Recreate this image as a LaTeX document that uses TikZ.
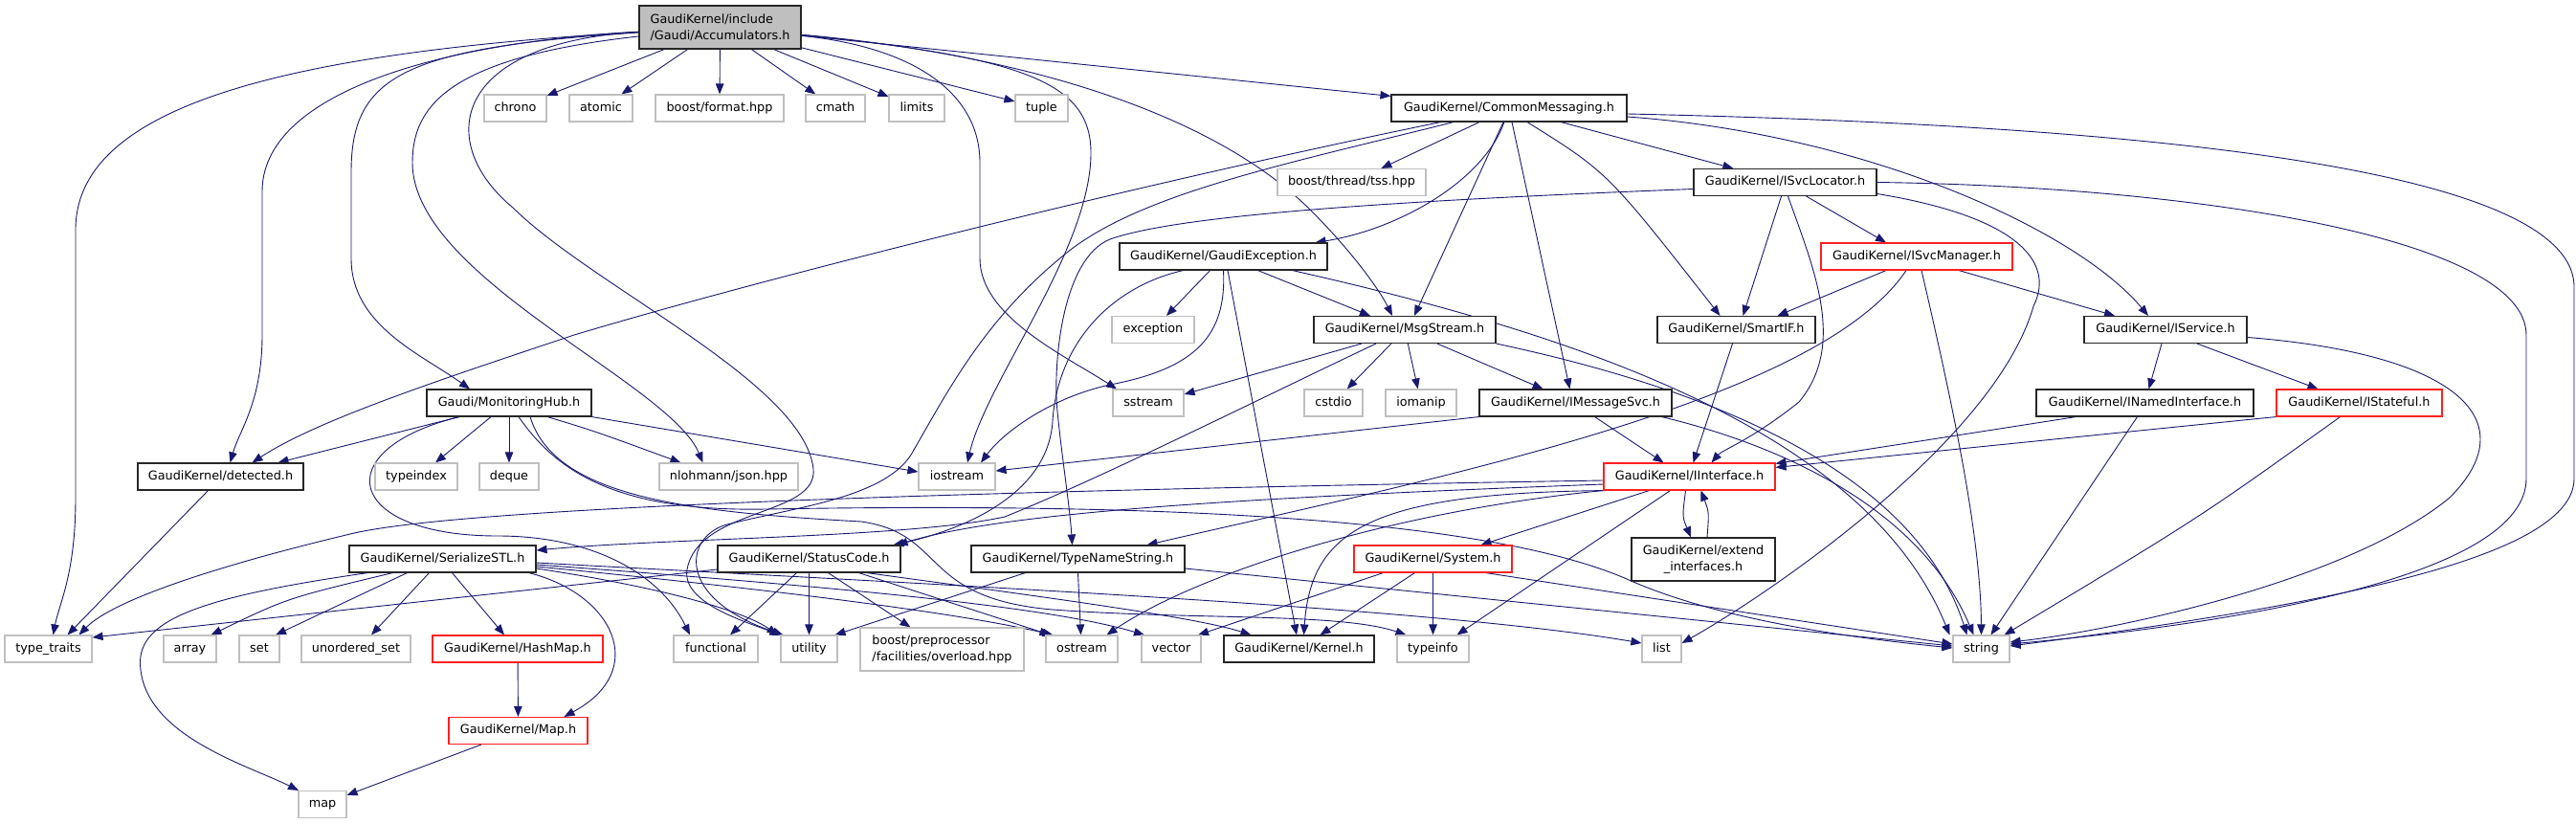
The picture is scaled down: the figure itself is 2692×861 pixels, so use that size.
\documentclass[tikz,border=0pt]{standalone}
\usepackage{fontspec}
\setmainfont{DejaVu Sans}
\usetikzlibrary{arrows.meta}
\definecolor{mblue}{HTML}{191970}
\definecolor{extgray}{HTML}{BFBFBF}
\definecolor{redb}{HTML}{FF2020}
\pgfdeclarelayer{back}
\pgfdeclarelayer{bg}
\pgfsetlayers{back,bg,main}
\tikzset{
  box/.style={inner sep=0pt, minimum height=28pt, line width=1.1pt, fill=white,
    font=\fontsize{12.8}{16.5}\selectfont, text height=9.6pt, text depth=2.8pt},
  doc/.style={box, draw=black!85},
  ext/.style={box, draw=extgray},
  trn/.style={box, draw=redb},
  two/.style={minimum height=45pt, text height=, text depth=},
  e/.style={draw=mblue, line width=0.9pt, -{Triangle[length=11pt,width=8.5pt]}}
}
\begin{document}
\begin{tikzpicture}[x=1pt,y=-1pt]
\begin{pgfonlayer}{back}
\fill[white] (0,0) rectangle (2692,861);
\end{pgfonlayer}
\useasboundingbox (0,0) rectangle (2692,861);

% ---------- nodes ----------
\node[doc, two, fill=extgray, minimum width=169pt, align=left] (acc) at (752.5,28.5) {GaudiKernel/include\\/Gaudi/Accumulators.h};
\node[ext, minimum width=65pt] (chrono) at (538.5,113) {chrono};
\node[ext, minimum width=66pt] (atomic) at (628,113) {atomic};
\node[ext, minimum width=134pt] (bformat) at (752,113) {boost/format.hpp};
\node[ext, minimum width=62pt] (cmath) at (873,113) {cmath};
\node[ext, minimum width=58pt] (limits) at (958,113) {limits};
\node[ext, minimum width=55pt] (tuple) at (1088.5,113) {tuple};
\node[doc, minimum width=246pt] (cm) at (1577,113) {GaudiKernel/CommonMessaging.h};
\node[ext, minimum width=155pt] (tss) at (1412.5,190.5) {boost/thread/tss.hpp};
\node[doc, minimum width=191pt] (isl) at (1865.5,190.5) {GaudiKernel/ISvcLocator.h};
\node[doc, minimum width=217pt] (ge) at (1278.5,268) {GaudiKernel/GaudiException.h};
\node[trn, minimum width=200pt] (ismgr) at (2003,268) {GaudiKernel/ISvcManager.h};
\node[ext, minimum width=86pt] (exception) at (1205,344.5) {exception};
\node[doc, minimum width=190pt] (ms) at (1468,344.5) {GaudiKernel/MsgStream.h};
\node[doc, minimum width=165pt] (sif) at (1814.5,344.5) {GaudiKernel/SmartIF.h};
\node[doc, minimum width=170pt] (isvc) at (2263,344.5) {GaudiKernel/IService.h};
\node[doc, minimum width=172pt] (mh) at (532,421) {Gaudi/MonitoringHub.h};
\node[ext, minimum width=74pt] (sstream) at (1200,421) {sstream};
\node[ext, minimum width=61pt] (cstdio) at (1393.5,421) {cstdio};
\node[ext, minimum width=74pt] (iomanip) at (1485,421) {iomanip};
\node[doc, minimum width=201pt] (ims) at (1646.5,421) {GaudiKernel/IMessageSvc.h};
\node[doc, minimum width=227pt] (inamed) at (2241.5,421) {GaudiKernel/INamedInterface.h};
\node[trn, minimum width=173pt] (istate) at (2465.5,421) {GaudiKernel/IStateful.h};
\node[doc, minimum width=173pt] (det) at (230.5,498) {GaudiKernel/detected.h};
\node[ext, minimum width=86pt] (typeindex) at (435,498) {typeindex};
\node[ext, minimum width=62pt] (deque) at (532,498) {deque};
\node[ext, minimum width=145pt] (json) at (761.5,498) {nlohmann/json.hpp};
\node[ext, minimum width=80pt] (iostream) at (1000,498) {iostream};
\node[trn, minimum width=179pt] (ii) at (1765.5,498) {GaudiKernel/IInterface.h};
\node[doc, minimum width=195pt] (sstl) at (462.5,584) {GaudiKernel/SerializeSTL.h};
\node[doc, minimum width=191pt] (sc) at (845.5,584) {GaudiKernel/StatusCode.h};
\node[doc, minimum width=223pt] (tns) at (1126.5,584) {GaudiKernel/TypeNameString.h};
\node[trn, minimum width=165pt] (sys) at (1497.5,584) {GaudiKernel/System.h};
\node[doc, two, minimum width=150pt, align=center] (ext) at (1780,584.5) {GaudiKernel/extend\\\_interfaces.h};
\node[ext, minimum width=91pt] (tt) at (50.5,678) {type\_traits};
\node[ext, minimum width=55pt] (array) at (198.5,678) {array};
\node[ext, minimum width=42pt] (set) at (271,678) {set};
\node[ext, minimum width=114pt] (uset) at (372,678) {unordered\_set};
\node[trn, minimum width=178pt] (hashmap) at (541,678) {GaudiKernel/HashMap.h};
\node[ext, minimum width=88pt] (functional) at (748,678) {functional};
\node[ext, minimum width=59pt] (utility) at (845.5,678) {utility};
\node[ext, two, minimum width=171pt, align=left] (bpp) at (984.5,678.5) {boost/preprocessor\\/facilities/overload.hpp};
\node[ext, minimum width=75pt] (ostream) at (1130.5,678) {ostream};
\node[ext, minimum width=62pt] (vector) at (1224,678) {vector};
\node[doc, minimum width=157pt] (kernel) at (1357.5,678) {GaudiKernel/Kernel.h};
\node[ext, minimum width=75pt] (typeinfo) at (1497.5,678) {typeinfo};
\node[ext, minimum width=41pt] (list) at (1736.5,678) {list};
\node[ext, minimum width=59pt] (string) at (2070.5,678) {string};
\node[trn, minimum width=145pt] (maph) at (541.5,763.5) {GaudiKernel/Map.h};
\node[ext, minimum width=50pt] (map) at (337,840.5) {map};

% ---------- edges ----------
\begin{pgfonlayer}{bg}
% Accumulators.h
\draw[e] (acc) -- (chrono);
\draw[e] (acc) -- (atomic);
\draw[e] (acc) -- (bformat);
\draw[e] (acc) -- (cmath);
\draw[e] (acc) -- (limits);
\draw[e] (acc) -- (tuple);
\draw[e] (acc) -- (cm);
\draw[e] (acc) .. controls (300,55) and (79,110) .. (79,240) -- (79,520) .. controls (79,600) and (62,630) .. ([xshift=5pt]tt.north);
\draw[e] (acc) .. controls (450,45) and (274,100) .. (274,200) -- (274,350) .. controls (274,420) and (250,450) .. ([xshift=10pt]det.north);
\draw[e] (acc) .. controls (420,50) and (367,80) .. (367,180) -- (367,270) .. controls (367,340) and (440,370) .. ([xshift=-41pt]mh.north);
\draw[e] (acc) .. controls (470,60) and (431,110) .. (431,170) .. controls (431,290) and (700,400) .. ([xshift=-27pt]json.north);
\draw[e] (acc) .. controls (470,45) and (455,150) .. (536,217) .. controls (620,300) and (840,400) .. (850,490) .. controls (855,540) and (730,530) .. (718,595) .. controls (712,630) and (780,650) .. ([xshift=-30pt]utility.north);
\draw[e] (acc) .. controls (960,50) and (1024,100) .. (1024,170) -- (1024,270) .. controls (1024,330) and (1110,370) .. ([xshift=-33pt]sstream.north);
\draw[e] (acc) .. controls (1080,60) and (1140,90) .. (1140,160) .. controls (1140,260) and (1030,400) .. ([xshift=11pt]iostream.north);
\draw[e] (acc) .. controls (1100,60) and (1280,130) .. (1370,220) .. controls (1410,260) and (1440,300) .. ([xshift=-13pt]ms.north);
% CommonMessaging.h
\draw[e] (cm) .. controls (1200,190) and (800,290) .. (600,350) .. controls (450,400) and (330,440) .. ([xshift=33pt]det.north);
\draw[e] (cm) .. controls (1350,170) and (1200,200) .. (1120,260) .. controls (1030,330) and (990,410) .. (955,470) .. controls (930,520) and (830,530) .. (760,548) .. controls (715,560) and (705,625) .. ([xshift=-27pt]utility.north);
\draw[e] (cm) -- (tss);
\draw[e] (cm) .. controls (1550,190) and (1460,240) .. ([xshift=96pt]ge.north);
\draw[e] ([xshift=-6pt]cm.south) -- ([xshift=10pt]ms.north);
\draw[e] ([xshift=3pt]cm.south) -- ([xshift=-6pt]ims.north);
\draw[e] ([xshift=19pt]cm.south) .. controls (1680,180) .. ([xshift=-17pt]sif.north);
\draw[e] (cm) -- (isl);
\draw[e] ([yshift=-9pt]cm.east) .. controls (1950,140) and (2170,240) .. ([xshift=-18pt]isvc.north);
\draw[e] ([yshift=-6pt]cm.east) .. controls (2200,130) and (2690,170) .. (2690,300) -- (2690,500) .. controls (2690,580) and (2450,630) .. ([yshift=3pt]string.east);
% ISvcLocator.h
\draw[e] ([yshift=-7pt]isl.west) .. controls (1450,210) and (1230,225) .. (1160,250) .. controls (1110,270) and (1100,380) .. (1105,430) .. controls (1110,480) and (1118,530) .. ([xshift=-6pt]tns.north);
\draw[e] ([xshift=-4pt]isl.south) -- ([xshift=7pt]sif.north);
\draw[e] ([xshift=3pt]isl.south) .. controls (1895,280) and (1930,360) .. (1880,420) .. controls (1830,460) and (1800,470) .. ([xshift=23pt]ii.north);
\draw[e] ([xshift=22pt]isl.south) -- ([xshift=-32pt]ismgr.north);
\draw[e] ([yshift=-12pt]isl.east) .. controls (2100,225) and (2150,270) .. (2125,320) .. controls (2085,460) and (1850,620) .. ([yshift=6pt]list.east);
\draw[e] (isl.east) .. controls (2300,195) and (2640,250) .. (2640,350) -- (2640,500) .. controls (2640,600) and (2350,650) .. ([yshift=5pt]string.east);
% ISvcManager.h
\draw[e] ([xshift=-32pt]ismgr.south) -- ([xshift=43pt]sif.north);
\draw[e] ([xshift=44pt]ismgr.south) -- ([xshift=-53pt]isvc.north);
\draw[e] ([xshift=-11pt]ismgr.south) .. controls (1900,420) and (1500,500) .. ([xshift=72pt]tns.north);
\draw[e] ([xshift=5pt]ismgr.south) .. controls (2040,420) and (2070,560) .. (string.north);
% SmartIF.h, IService.h, INamedInterface.h, IStateful.h
\draw[e] ([xshift=-4pt]sif.south) -- ([xshift=4pt]ii.north);
\draw[e] ([xshift=-4pt]isvc.south) -- ([xshift=4pt]inamed.north);
\draw[e] ([xshift=33pt]isvc.south) -- ([xshift=-43pt]istate.north);
\draw[e] ([yshift=-8pt]isvc.east) .. controls (2570,370) and (2640,440) .. (2560,520) .. controls (2450,610) and (2200,660) .. ([yshift=7pt]string.east);
\draw[e] ([xshift=-72pt]inamed.south) -- ([yshift=-1pt]ii.north east);
\draw[e] ([xshift=-8pt]inamed.south) -- ([xshift=10pt]string.north);
\draw[e] (istate.south west) -- ([yshift=-5pt]ii.north east);
\draw[e] ([xshift=-20pt]istate.south) .. controls (2300,540) .. ([xshift=24pt]string.north);
% IMessageSvc.h
\draw[e] ([xshift=20pt]ims.south) -- ([xshift=-27pt]ii.north);
\draw[e] (ims.south west) -- ([yshift=6pt]iostream.east);
\draw[e] ([xshift=90pt]ims.south) .. controls (1880,470) and (2010,540) .. ([xshift=-8pt]string.north);
% MsgStream.h
\draw[e] ([xshift=-45pt]ms.south) -- ([yshift=9pt]sstream.east);
\draw[e] ([xshift=-30pt]ms.south) .. controls (1330,410) and (1150,500) .. (1050,540) .. controls (950,562) and (700,562) .. ([yshift=9pt]sstl.east);
\draw[e] (ms) -- (cstdio);
\draw[e] (ms) -- (iomanip);
\draw[e] (ms) -- (ims);
\draw[e] (ms.south east) .. controls (1850,420) and (2010,520) .. ([xshift=-15pt]string.north);
% GaudiException.h
\draw[e] (ge) -- (exception);
\draw[e] (ge) -- (ms);
\draw[e] ([xshift=4.5pt]ge.south) -- ([xshift=-2.5pt]kernel.north);
\draw[e] ([xshift=-42pt]ge.south) .. controls (1160,300) and (1105,360) .. (1100,440) .. controls (1095,520) and (1000,555) .. ([xshift=88pt]sc.north);
\draw[e] (ge.south) .. controls (1282,350) and (1250,385) .. (1160,402) .. controls (1100,415) and (1050,450) .. ([xshift=25pt]iostream.north);
\draw[e] ([xshift=72pt]ge.south) .. controls (1650,350) and (1950,450) .. ([xshift=-33pt]string.north);
% MonitoringHub.h
\draw[e] ([xshift=-52pt]mh.south) -- ([xshift=60pt]det.north);
\draw[e] ([xshift=-52pt]mh.south) .. controls (340,470) and (360,560) .. (520,560) .. controls (620,560) and (690,600) .. ([xshift=-27pt]functional.north);
\draw[e] ([xshift=-19pt]mh.south) -- ([xshift=20pt]typeindex.north);
\draw[e] (mh) -- (deque);
\draw[e] ([xshift=40pt]mh.south) .. controls (620,450) .. ([xshift=-50pt]json.north);
\draw[e] (mh.south east) -- ([yshift=5pt]iostream.west);
\draw[e] ([xshift=22pt]mh.south) .. controls (580,520) and (720,535) .. (900,545) .. controls (990,558) and (960,625) .. (1100,637) .. controls (1250,648) and (1400,640) .. ([xshift=-28pt]typeinfo.north);
\draw[e] ([xshift=10pt]mh.south) .. controls (580,490) and (640,535) .. (800,532) .. controls (1200,525) and (1550,540) .. (1700,605) .. controls (1800,650) and (1950,668) .. ([yshift=1pt]string.west);
% detected.h
\draw[e] ([xshift=-13pt]det.south) -- ([xshift=20pt]tt.north);
% SerializeSTL.h
\draw[e] ([xshift=-78pt]sstl.south) .. controls (200,625) and (140,650) .. (147,700) .. controls (155,770) and (260,800) .. ([xshift=-25pt]map.north);
\draw[e] ([xshift=-52pt]sstl.south) .. controls (300,625) .. ([xshift=22pt]array.north);
\draw[e] ([xshift=-37pt]sstl.south) -- ([xshift=17pt]set.north);
\draw[e] ([xshift=-14pt]sstl.south) -- ([xshift=16pt]uset.north);
\draw[e] ([xshift=10pt]sstl.south) -- ([xshift=-14pt]hashmap.north);
\draw[e] ([xshift=90pt]sstl.south) .. controls (640,620) and (680,700) .. ([xshift=48pt]maph.north);
\draw[e] ([yshift=-10pt]sstl.east) .. controls (700,615) and (780,640) .. ([xshift=-33pt]utility.north);
\draw[e] ([yshift=-8pt]sstl.east) .. controls (800,615) and (1000,640) .. ([xshift=-30pt]ostream.north);
\draw[e] ([yshift=-6pt]sstl.east) .. controls (900,615) and (1100,635) .. ([xshift=-28pt]vector.north);
\draw[e] ([yshift=-4pt]sstl.east) .. controls (1000,612) and (1500,635) .. ([yshift=6pt]list.west);
% StatusCode.h
\draw[e] ([yshift=-11pt]sc.west) -- ([yshift=12pt]tt.east);
\draw[e] ([xshift=-13pt]sc.south) -- ([xshift=15pt]functional.north);
\draw[e] (sc) -- (utility);
\draw[e] ([xshift=20pt]sc.south) -- ([xshift=-33pt]bpp.north);
\draw[e] ([xshift=52pt]sc.south) -- ([xshift=-33pt]ostream.north);
\draw[e] ([xshift=60pt]sc.south) .. controls (1100,625) and (1250,645) .. ([xshift=-50pt]kernel.north);
% TypeNameString.h
\draw[e] ([xshift=-55pt]tns.south) -- ([xshift=27pt]utility.north);
\draw[e] (tns.south) -- ([xshift=-1pt]ostream.north);
\draw[e] ([yshift=-10pt]tns.east) -- ([yshift=3pt]string.west);
% IInterface.h
\draw[e] ([yshift=-4pt]ii.west) .. controls (1200,510) and (500,525) .. (366,558) .. controls (240,588) and (120,625) .. ([xshift=32pt]tt.north);
\draw[e] ([yshift=-8pt]ii.west) .. controls (1300,520) and (1050,535) .. ([xshift=-4pt]sc.north east);
\draw[e] (ii.south west) .. controls (1450,535) and (1250,600) .. ([xshift=26pt]ostream.north);
\draw[e] ([xshift=3pt]ii.south west) .. controls (1430,515) and (1370,555) .. ([xshift=5pt]kernel.north);
\draw[e] ([xshift=-42pt]ii.south) -- ([xshift=50pt]sys.north);
\draw[e] ([xshift=-20pt]ii.south) -- ([xshift=25pt]typeinfo.north);
\draw[e] ([xshift=-4pt]ii.south) .. controls (1758,540) .. ([xshift=-13pt]ext.north);
\draw[e] ([xshift=4pt]ext.north) .. controls (1786,535) .. ([xshift=12pt]ii.south);
% System.h
\draw[e] ([xshift=-19pt]sys.south) -- ([xshift=22pt]kernel.north);
\draw[e] (sys) -- (typeinfo);
\draw[e] ([xshift=-52pt]sys.south) -- ([xshift=28pt]vector.north);
\draw[e] ([xshift=55pt]sys.south) -- ([yshift=5pt]string.west);
% HashMap.h, Map.h
\draw[e] (hashmap) -- (maph);
\draw[e] (maph) -- (map);
\end{pgfonlayer}
\end{tikzpicture}
\end{document}
